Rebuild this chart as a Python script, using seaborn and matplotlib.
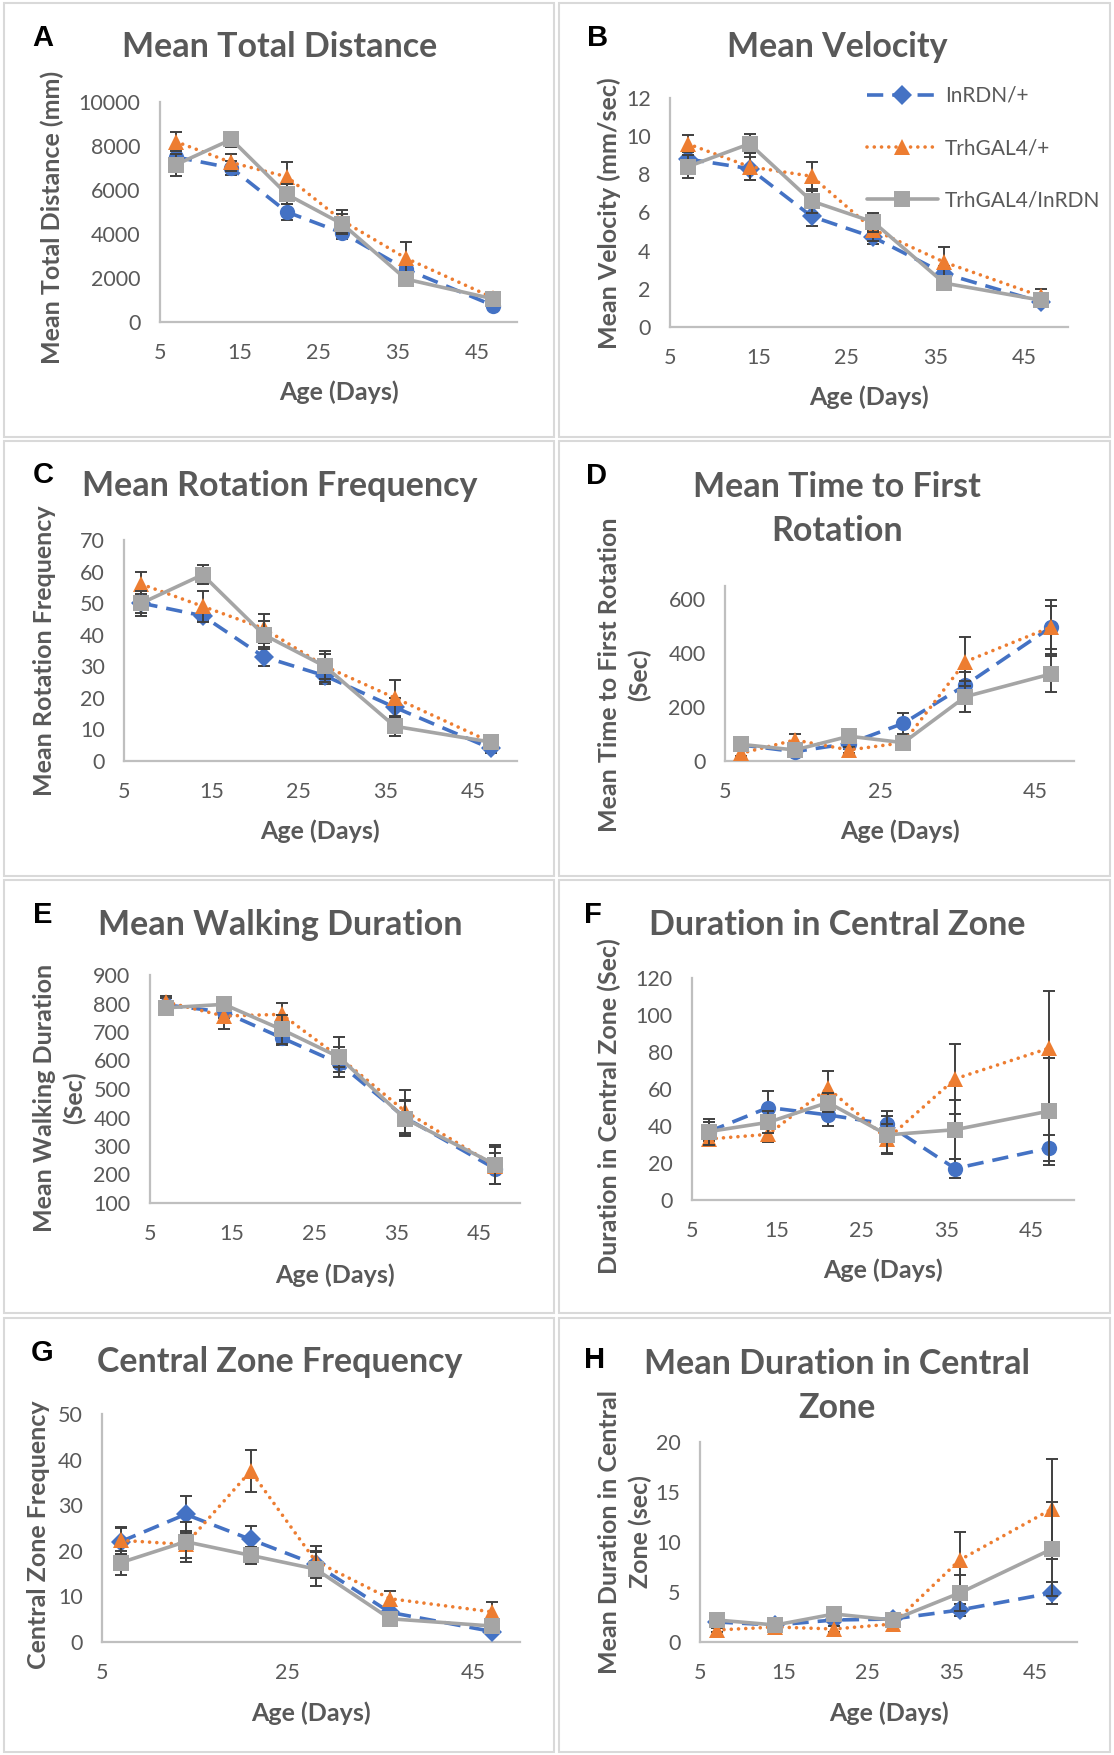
import numpy as np
import pandas as pd
import seaborn as sns
import matplotlib
matplotlib.use("Agg")
import matplotlib.pyplot as plt
from matplotlib.patches import Rectangle
from matplotlib.lines import Line2D

# ---------------- data ----------------
AGES = [7, 14, 21, 28, 36, 47]
GENOTYPES = ["InRDN/+", "TrhGAL4/+", "TrhGAL4/InRDN"]

# A  Mean Total Distance (mm)
DIST_INRDN = [7500, 7000, 5000, 4050, 2400, 750]
DIST_INRDN_SE = [400, 300, 350, 300, 300, 150]
DIST_TRH = [8200, 7250, 6600, 4600, 2900, 1100]
DIST_TRH_SE = [450, 400, 650, 500, 750, 150]
DIST_TRH_INRDN = [7150, 8300, 5800, 4450, 1950, 1050]
DIST_TRH_INRDN_SE = [500, 350, 450, 450, 250, 150]

# B  Mean Velocity (mm/sec)
VEL_INRDN = [8.8, 8.3, 5.8, 4.7, 2.8, 1.3]
VEL_INRDN_SE = [0.5, 0.6, 0.5, 0.35, 0.4, 0.25]
VEL_TRH = [9.6, 8.4, 7.9, 5.1, 3.4, 1.6]
VEL_TRH_SE = [0.45, 0.7, 0.75, 0.6, 0.8, 0.4]
VEL_TRH_INRDN = [8.4, 9.6, 6.6, 5.5, 2.3, 1.4]
VEL_TRH_INRDN_SE = [0.6, 0.5, 0.65, 0.5, 0.3, 0.3]

# C  Mean Rotation Frequency
ROT_INRDN = [50, 46, 33, 27, 17, 4]
ROT_INRDN_SE = [3, 1.5, 3, 2.5, 3, 1.5]
ROT_TRH = [56, 49, 42, 30, 20, 6]
ROT_TRH_SE = [4, 5, 4.5, 4, 5.6, 1.5]
ROT_TRH_INRDN = [50, 59, 40, 30, 11, 6]
ROT_TRH_INRDN_SE = [4, 3, 4.5, 5, 3, 1.5]

# D  Mean Time to First Rotation (Sec)
FIRST_INRDN = [60, 35, 65, 140, 282, 497]
FIRST_INRDN_SE = [15, 10, 20, 40, 50, 100]
FIRST_TRH = [28, 78, 41, 68, 369, 497]
FIRST_TRH_SE = [10, 22, 12, 20, 92, 80]
FIRST_TRH_INRDN = [62, 41, 92, 68, 239, 323]
FIRST_TRH_INRDN_SE = [15, 10, 15, 20, 57, 68]

# E  Mean Walking Duration (Sec)
WALK_INRDN = [795, 770, 680, 590, 400, 220]
WALK_INRDN_SE = [25, 20, 25, 30, 60, 55]
WALK_TRH = [805, 756, 762, 612, 422, 230]
WALK_TRH_SE = [20, 45, 40, 35, 75, 65]
WALK_TRH_INRDN = [785, 797, 709, 612, 396, 235]
WALK_TRH_INRDN_SE = [20, 20, 50, 70, 62, 70]

# F  Duration in Central Zone (Sec)
CZDUR_INRDN = [37, 50, 46, 41, 17, 28]
CZDUR_INRDN_SE = [5, 8.7, 6, 7, 5, 7]
CZDUR_TRH = [33, 35.5, 60.5, 33, 65.5, 82]
CZDUR_TRH_SE = [3, 4, 9, 8, 19, 31]
CZDUR_TRH_INRDN = [37, 42, 52.7, 35.2, 38, 48]
CZDUR_TRH_INRDN_SE = [7, 6, 5, 10, 16, 29]

# G  Central Zone Frequency
CZFREQ_INRDN = [22, 28, 22.5, 17, 6.5, 2.3]
CZFREQ_INRDN_SE = [3, 4, 3, 3, 1.5, 0.8]
CZFREQ_TRH = [22.3, 21.4, 37.5, 17.7, 9.5, 6.6]
CZFREQ_TRH_SE = [3, 3, 4.6, 3.3, 1.6, 2.2]
CZFREQ_TRH_INRDN = [17.4, 22, 19, 16, 5.1, 3.5]
CZFREQ_TRH_INRDN_SE = [2.6, 4.4, 1.8, 3.8, 0.8, 0.8]

# H  Mean Duration in Central Zone (sec)
CZMEAN_INRDN = [2.0, 1.7, 2.2, 2.3, 3.2, 4.9]
CZMEAN_INRDN_SE = [0.3, 0.2, 0.3, 0.3, 0.6, 1.1]
CZMEAN_TRH = [1.2, 1.5, 1.3, 1.8, 8.2, 13.3]
CZMEAN_TRH_SE = [0.2, 0.2, 0.3, 0.2, 2.8, 5.0]
CZMEAN_TRH_INRDN = [2.2, 1.7, 2.8, 2.2, 4.9, 9.3]
CZMEAN_TRH_INRDN_SE = [0.3, 0.2, 0.3, 0.3, 1.8, 4.7]

# tick labels
X_TICKS_10 = [5, 15, 25, 35, 45]
X_TICKS_20 = [5, 25, 45]
Y_TICKS_A = [0, 2000, 4000, 6000, 8000, 10000]
Y_TICKS_B = [0, 2, 4, 6, 8, 10, 12]
Y_TICKS_C = [0, 10, 20, 30, 40, 50, 60, 70]
Y_TICKS_D = [0, 200, 400, 600]
Y_TICKS_E = [100, 200, 300, 400, 500, 600, 700, 800, 900]
Y_TICKS_F = [0, 20, 40, 60, 80, 100, 120]
Y_TICKS_G = [0, 10, 20, 30, 40, 50]
Y_TICKS_H = [0, 5, 10, 15, 20]

# ---------------- style ----------------
W, H = 1114, 1755
DPI = 100
sns.set_style("white")
plt.rcParams["font.family"] = ["Lato", "DejaVu Sans"]

COLORS = ["#4472C4", "#ED7D31", "#A5A5A5"]
TEXT = "#595959"
ERRC = "#404040"
AXC = "#BFBFBF"
LW = 2.6

fig = plt.figure(figsize=(W / DPI, H / DPI), dpi=DPI)
fig.patch.set_facecolor("white")


def fx(px):
    return px / W


def fy(py):
    return 1 - py / H


# panel borders
COLS = [(4, 554), (559, 1110)]
ROWS = [(3, 437), (441, 876), (880, 1313), (1318, 1752)]
for (r0, r1) in ROWS:
    for (c0, c1) in COLS:
        fig.add_artist(Rectangle((fx(c0), fy(r1)), fx(c1 - c0), (r1 - r0) / H,
                                 transform=fig.transFigure, fill=False,
                                 edgecolor="#D9D9D9", linewidth=1.5))


def series_style(i, blue_marker):
    if i == 0:
        return dict(marker=blue_marker, dashes=(4.5, 2.5),
                    markersize=11 if blue_marker == "o" else 10)
    if i == 1:
        return dict(marker="^", dashes=(0.01, 2.0), dash_capstyle="round", markersize=12)
    return dict(marker="s", linestyle="-", markersize=11)


PANELS = [
    dict(letter="A", title="Mean Total Distance", ylabel="Mean Total Distance (mm)",
         series=[DIST_INRDN, DIST_TRH, DIST_TRH_INRDN],
         errors=[DIST_INRDN_SE, DIST_TRH_SE, DIST_TRH_INRDN_SE],
         yticks=Y_TICKS_A, ylim=(0, 10000), xticks=X_TICKS_10, bm="o",
         origin=(0, 0), ax_px=(160, 102, 517, 322), title_xy=(280, 47),
         letter_xy=(43, 38), ylabel_xy=(52, 217), xlabel_xy=(339, 392)),
    dict(letter="B", title="Mean Velocity", ylabel="Mean Velocity (mm/sec)",
         series=[VEL_INRDN, VEL_TRH, VEL_TRH_INRDN],
         errors=[VEL_INRDN_SE, VEL_TRH_SE, VEL_TRH_INRDN_SE],
         yticks=Y_TICKS_B, ylim=(0, 12), xticks=X_TICKS_10, bm="D",
         origin=(555, 0), ax_px=(115, 98, 513, 327), title_xy=(282, 47),
         letter_xy=(43, 38), ylabel_xy=(54, 213), xlabel_xy=(314, 397)),
    dict(letter="C", title="Mean Rotation Frequency", ylabel="Mean Rotation Frequency",
         series=[ROT_INRDN, ROT_TRH, ROT_TRH_INRDN],
         errors=[ROT_INRDN_SE, ROT_TRH_SE, ROT_TRH_INRDN_SE],
         yticks=Y_TICKS_C, ylim=(0, 70), xticks=X_TICKS_10, bm="D",
         origin=(0, 438), ax_px=(124, 102, 517, 323), title_xy=(280, 48),
         letter_xy=(43, 37), ylabel_xy=(45, 213), xlabel_xy=(320, 393)),
    dict(letter="D", title="Mean Time to First\nRotation", ylabel="Mean Time to First Rotation\n(Sec)",
         series=[FIRST_INRDN, FIRST_TRH, FIRST_TRH_INRDN],
         errors=[FIRST_INRDN_SE, FIRST_TRH_SE, FIRST_TRH_INRDN_SE],
         yticks=Y_TICKS_D, ylim=(0, 650), xticks=X_TICKS_20, bm="o",
         origin=(555, 438), ax_px=(170, 148, 519, 323), title_xy=(282, 71),
         letter_xy=(41, 38), ylabel_xy=(70, 237), xlabel_xy=(345, 393)),
    dict(letter="E", title="Mean Walking Duration", ylabel="Mean Walking Duration\n(Sec)",
         series=[WALK_INRDN, WALK_TRH, WALK_TRH_INRDN],
         errors=[WALK_INRDN_SE, WALK_TRH_SE, WALK_TRH_INRDN_SE],
         yticks=Y_TICKS_E, ylim=(100, 900), xticks=X_TICKS_10, bm="o",
         origin=(0, 878), ax_px=(150, 97, 520, 325), title_xy=(280, 47),
         letter_xy=(43, 37), ylabel_xy=(60, 220), xlabel_xy=(335, 397)),
    dict(letter="F", title="Duration in Central Zone", ylabel="Duration in Central Zone (Sec)",
         series=[CZDUR_INRDN, CZDUR_TRH, CZDUR_TRH_INRDN],
         errors=[CZDUR_INRDN_SE, CZDUR_TRH_SE, CZDUR_TRH_INRDN_SE],
         yticks=Y_TICKS_F, ylim=(0, 120), xticks=X_TICKS_10, bm="o",
         origin=(555, 878), ax_px=(137, 100, 519, 322), title_xy=(282, 47),
         letter_xy=(38, 37), ylabel_xy=(54, 228), xlabel_xy=(328, 392)),
    dict(letter="G", title="Central Zone Frequency", ylabel="Central Zone Frequency",
         series=[CZFREQ_INRDN, CZFREQ_TRH, CZFREQ_TRH_INRDN],
         errors=[CZFREQ_INRDN_SE, CZFREQ_TRH_SE, CZFREQ_TRH_INRDN_SE],
         yticks=Y_TICKS_G, ylim=(0, 50), xticks=X_TICKS_20, bm="D",
         origin=(0, 1315), ax_px=(102, 99, 520, 327), title_xy=(280, 47),
         letter_xy=(42, 38), ylabel_xy=(39, 220), xlabel_xy=(311, 398)),
    dict(letter="H", title="Mean Duration in Central\nZone", ylabel="Mean Duration in Central\nZone (sec)",
         series=[CZMEAN_INRDN, CZMEAN_TRH, CZMEAN_TRH_INRDN],
         errors=[CZMEAN_INRDN_SE, CZMEAN_TRH_SE, CZMEAN_TRH_INRDN_SE],
         yticks=Y_TICKS_H, ylim=(0, 20), xticks=X_TICKS_10, bm="D",
         origin=(555, 1315), ax_px=(145, 127, 522, 327), title_xy=(282, 71),
         letter_xy=(40, 45), ylabel_xy=(70, 217), xlabel_xy=(334, 398)),
]

TITLE_FS = 24.5
LABEL_FS = 18
TICK_FS = 15.5
LETTER_FS = 21

for p in PANELS:
    ox, oy = p["origin"]
    l, t, r, b = p["ax_px"]
    ax = fig.add_axes([fx(ox + l), fy(oy + b), fx(r - l), (b - t) / H])
    ax.set_facecolor("none")
    for i, (vals, errs) in enumerate(zip(p["series"], p["errors"])):
        ax.errorbar(AGES, vals, yerr=errs, fmt="none", ecolor=ERRC,
                    elinewidth=1.4, capsize=4, capthick=1.4, zorder=3 + 2 * i)
        st = series_style(i, p["bm"])
        df = pd.DataFrame({"Age": AGES, "Value": vals})
        sns.lineplot(data=df, x="Age", y="Value", ax=ax, color=COLORS[i],
                     linewidth=LW, errorbar=None, markeredgewidth=0,
                     zorder=4 + 2 * i, **st)
    ax.set_xlim(5, 50)
    ax.set_ylim(*p["ylim"])
    ax.set_xticks(p["xticks"])
    ax.set_yticks(p["yticks"])
    ax.set_xticklabels([str(v) for v in p["xticks"]])
    ax.set_yticklabels([str(v) for v in p["yticks"]])
    ax.set_xlabel("")
    ax.set_ylabel("")
    for s in ["top", "right"]:
        ax.spines[s].set_visible(False)
    for s in ["left", "bottom"]:
        ax.spines[s].set_color(AXC)
        ax.spines[s].set_linewidth(1.6)
    ax.tick_params(axis="both", length=0, labelsize=TICK_FS, labelcolor=TEXT)
    ax.tick_params(axis="x", pad=15)
    ax.tick_params(axis="y", pad=14)
    ax.grid(False)

    # texts
    tx, ty = p["title_xy"]
    fig.text(fx(ox + tx), fy(oy + ty), p["title"], ha="center", va="center",
             fontsize=TITLE_FS, fontweight="bold", color=TEXT, linespacing=1.45)
    lx, ly = p["letter_xy"]
    fig.text(fx(ox + lx), fy(oy + ly), p["letter"], ha="center", va="center",
             fontsize=LETTER_FS, fontweight="bold", color="black",
             family=["Liberation Sans", "DejaVu Sans"])
    yx, yy = p["ylabel_xy"]
    fig.text(fx(ox + yx), fy(oy + yy), p["ylabel"], ha="center", va="center",
             rotation=90, fontsize=LABEL_FS, fontweight="bold", color=TEXT,
             linespacing=1.35, multialignment="center")
    xx, xy = p["xlabel_xy"]
    fig.text(fx(ox + xx), fy(oy + xy), "Age (Days)", ha="center", va="center",
             fontsize=LABEL_FS, fontweight="bold", color=TEXT)

# legend (panel B)
handles = []
for i, g in enumerate(GENOTYPES):
    st = series_style(i, "D")
    handles.append(Line2D([], [], color=COLORS[i], linewidth=LW,
                          markeredgewidth=0, **st))
fig.legend(handles, GENOTYPES, loc="upper left",
           bbox_to_anchor=(fx(867), fy(86)), bbox_transform=fig.transFigure,
           frameon=False, fontsize=15, labelcolor=TEXT, handlelength=3.4,
           handletextpad=0.35, labelspacing=1.55, borderpad=0, borderaxespad=0,
           numpoints=1)

fig.savefig("out.png", dpi=DPI, facecolor="white")
